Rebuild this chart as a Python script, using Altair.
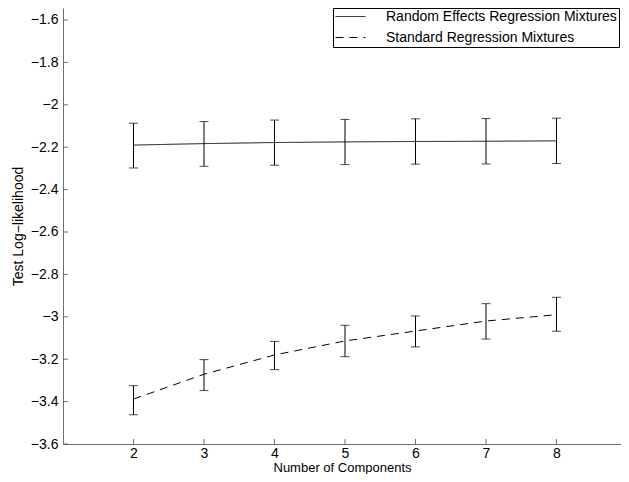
import altair as alt
import pandas as pd

components = [2, 3, 4, 5, 6, 7, 8]
series_names = ["Random Effects Regression Mixtures", "Standard Regression Mixtures"]

re_mean = [-2.190, -2.183, -2.178, -2.175, -2.173, -2.172, -2.170]
re_lo = [-2.298, -2.290, -2.285, -2.282, -2.280, -2.279, -2.277]
re_hi = [-2.087, -2.079, -2.072, -2.069, -2.066, -2.065, -2.063]

sr_mean = [-3.388, -3.271, -3.180, -3.114, -3.067, -3.020, -2.990]
sr_lo = [-3.462, -3.348, -3.249, -3.188, -3.142, -3.105, -3.068]
sr_hi = [-3.325, -3.202, -3.116, -3.040, -2.996, -2.938, -2.908]

y_ticks = [-3.6, -3.4, -3.2, -3.0, -2.8, -2.6, -2.4, -2.2, -2.0, -1.8, -1.6]
x_ticks = [2, 3, 4, 5, 6, 7, 8]

rows = []
for i, c in enumerate(components):
    rows.append({"n": c, "series": series_names[0], "mean": re_mean[i], "lo": re_lo[i], "hi": re_hi[i]})
for i, c in enumerate(components):
    rows.append({"n": c, "series": series_names[1], "mean": sr_mean[i], "lo": sr_lo[i], "hi": sr_hi[i]})
df = pd.DataFrame(rows)

W, H = 558, 436
FONT = "Liberation Sans"
FS = 14
AXC = "#6e6e6e"

xscale = alt.Scale(domain=[1, 8.915], nice=False, zero=False)
yscale = alt.Scale(domain=[-3.6, -1.5434], nice=False, zero=False)

xaxis = alt.Axis(values=x_ticks, ticks=False, grid=False, domainColor=AXC, labelPadding=2,
                 labelFontSize=FS, labelFont=FONT, labelColor="black",
                 title="Number of Components", titleFontSize=13, titleFont=FONT,
                 titleFontWeight="normal", titleBaseline="alphabetic", titleY=27,
                 titleColor="black")
yaxis = alt.Axis(values=y_ticks, ticks=False, grid=False, domainColor=AXC, labelPadding=5,
                 format=".1~f", labelFontSize=FS, labelFont=FONT, labelColor="black",
                 title="Test Log\u2212likelihood", titleFontSize=FS, titleFont=FONT,
                 titleFontWeight="normal", titlePadding=5, titleColor="black")

base = alt.Chart(df)

lines = base.mark_line(color="black", strokeWidth=1).encode(
    x=alt.X("n:Q", scale=xscale, axis=xaxis),
    y=alt.Y("mean:Q", scale=yscale, axis=yaxis),
    strokeDash=alt.StrokeDash(
        "series:N",
        scale=alt.Scale(domain=series_names, range=[[1, 0], [8, 6]]),
        legend=alt.Legend(
            title=None, orient="none", legendX=270, legendY=0,
            symbolType="stroke", symbolSize=900, symbolStrokeWidth=1,
            symbolStrokeColor="black", labelFont=FONT, labelFontSize=14,
            labelColor="black", labelOffset=20, rowPadding=6, padding=2,
            clipHeight=13,
            strokeColor="black", fillColor="white", labelLimit=400,
        ),
    ),
)

bars = base.mark_rule(color="black", strokeWidth=1).encode(
    x=alt.X("n:Q", scale=xscale, axis=xaxis),
    y=alt.Y("lo:Q", scale=yscale, axis=yaxis),
    y2="hi:Q",
)
cap_lo = base.mark_tick(color="black", orient="horizontal", size=9, thickness=1).encode(
    x=alt.X("n:Q", scale=xscale, axis=xaxis),
    y=alt.Y("lo:Q", scale=yscale, axis=yaxis),
)
cap_hi = base.mark_tick(color="black", orient="horizontal", size=9, thickness=1).encode(
    x=alt.X("n:Q", scale=xscale, axis=xaxis),
    y=alt.Y("hi:Q", scale=yscale, axis=yaxis),
)

ytick_df = pd.DataFrame({"v": y_ticks})
xtick_df = pd.DataFrame({"v": x_ticks})
ytick_marks = alt.Chart(ytick_df).mark_rule(color=AXC, strokeWidth=1).encode(
    y=alt.Y("v:Q", scale=yscale, axis=yaxis),
    x=alt.value(0), x2=alt.value(5),
)
xtick_marks = alt.Chart(xtick_df).mark_rule(color=AXC, strokeWidth=1).encode(
    x=alt.X("v:Q", scale=xscale, axis=xaxis),
    y=alt.value(H), y2=alt.value(H - 5),
)

chart = alt.layer(lines, bars, cap_lo, cap_hi, ytick_marks, xtick_marks).properties(
    width=W, height=H,
    autosize=alt.AutoSizeParams(type="none"),
    padding={"left": 55, "top": 0, "right": 0, "bottom": 30},
).configure_view(stroke=None).configure_axis(domainWidth=1)

chart.save("out.html", embed_options={"renderer": "svg", "actions": False})
